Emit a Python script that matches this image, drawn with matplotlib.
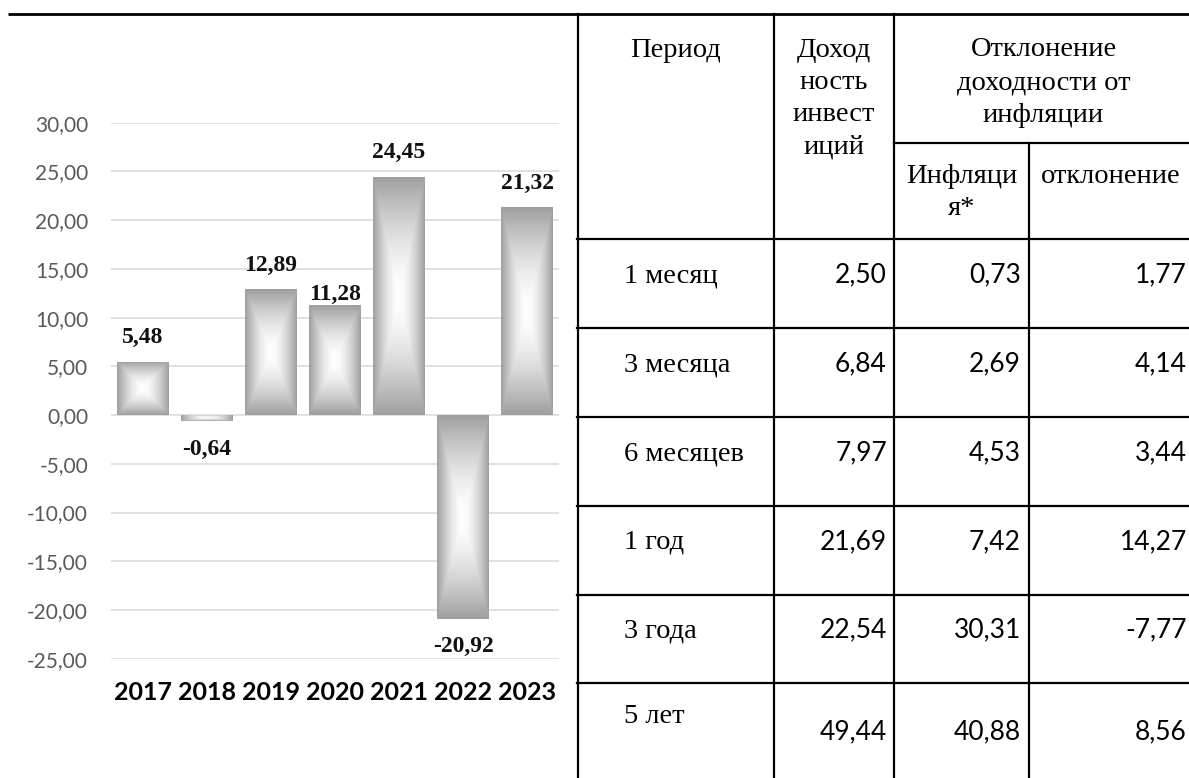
import numpy as np
import matplotlib
matplotlib.use("Agg")
import matplotlib.pyplot as plt
from matplotlib.ticker import FuncFormatter

# ---------------- data ----------------
years = ["2017", "2018", "2019", "2020", "2021", "2022", "2023"]
returns = [5.48, -0.64, 12.89, 11.28, 24.45, -20.92, 21.32]

periods = ["1 месяц", "3 месяца", "6 месяцев", "1 год", "3 года", "5 лет"]
income = ["2,50", "6,84", "7,97", "21,69", "22,54", "49,44"]
inflation = ["0,73", "2,69", "4,53", "7,42", "30,31", "40,88"]
deviation = ["1,77", "4,14", "3,44", "14,27", "-7,77", "8,56"]

hdr_period = "Период"
hdr_income = ["Доход", "ность", "инвест", "иций"]
hdr_dev = ["Отклонение", "доходности от", "инфляции"]
hdr_infl = ["Инфляци", "я*"]
hdr_dev2 = "отклонение"

# label vertical offsets (points) for bar value labels
label_up = [13.5, 0, 13.5, 3.5, 13.5, 0, 13.5]

W, H = 1189, 778
fig = plt.figure(figsize=(W / 100, H / 100), dpi=100)

# ---------------- chart ----------------
ax = fig.add_axes([111 / W, (H - 658.7) / H, 448 / W, 536 / H])
x = np.arange(len(years))
bars = ax.bar(x, returns, width=0.8, color="none", edgecolor="none", zorder=2)

# rectangular "frame" gradient: grey edges -> white centre
n = 300
u = np.linspace(-1, 1, n)
U, V = np.meshgrid(u, u)
d = np.maximum(np.abs(U), np.abs(V))
g = 0.62
shade = 1 - (1 - g) * d ** 1.6
grad = np.dstack([shade, shade, shade])

for b in bars:
    x0, y0 = b.get_x(), b.get_y()
    w, h = b.get_width(), b.get_height()
    y_lo, y_hi = min(y0, y0 + h), max(y0, y0 + h)
    im = ax.imshow(grad, extent=[x0, x0 + w, y_lo, y_hi], aspect="auto",
                   interpolation="bilinear", zorder=2)
    im.set_clip_path(b)

ax.set_xlim(-0.5, len(years) - 0.5)
ax.set_ylim(-25, 30)
ax.set_yticks(np.arange(-25, 31, 5))
ax.yaxis.set_major_formatter(FuncFormatter(lambda v, p: f"{v:.2f}".replace(".", ",")))
ax.grid(axis="y", color="#d9d9d9", lw=1.1)
ax.set_axisbelow(True)
for s in ax.spines.values():
    s.set_visible(False)
ax.tick_params(axis="y", length=0, pad=16.5, labelsize=15, labelcolor="#595959")
ax.set_xticks(x)
ax.set_xticklabels(years)
ax.tick_params(axis="x", length=0, pad=16, labelsize=18, labelcolor="black")
for t in ax.get_yticklabels():
    t.set_fontfamily("Lato")
for t in ax.get_xticklabels():
    t.set_fontfamily("Lato")
    t.set_fontweight("bold")

for i, v in enumerate(returns):
    txt = f"{v:.2f}".replace(".", ",")
    off = label_up[i] if v >= 0 else -24
    ax.annotate(txt, (x[i], v), xytext=(0, off), textcoords="offset points",
                ha="center", va="baseline", fontsize=17, fontweight="bold",
                family="Liberation Serif", color="#111111", zorder=3)

# ---------------- table ----------------
tx = fig.add_axes([0, 0, 1, 1])
tx.set_xlim(0, W)
tx.set_ylim(H, 0)
tx.axis("off")

lw = 1.6
tx.plot([8, W], [14, 14], color="black", lw=2.0, solid_capstyle="butt")
L, C1, C2, C3, R = 577.5, 774, 894, 1029, 1193
row_tops = [239, 328, 417, 506, 594.5, 683]
for xv in (L, C1, C2):
    tx.plot([xv, xv], [14, H + 5], color="black", lw=lw)
tx.plot([C3, C3], [143, H + 5], color="black", lw=lw)
tx.plot([C2, R + 5], [143, 143], color="black", lw=lw)
for yt in row_tops:
    tx.plot([L - 1, R + 5], [yt, yt], color="black", lw=lw)

serif = "Liberation Serif"
fs_h = 20.5
tx.text((L + C1) / 2, 57, hdr_period, ha="center", va="baseline", fontsize=fs_h, family=serif)
for k, line in enumerate(hdr_income):
    tx.text((C1 + C2) / 2, 57 + 32 * k, line, ha="center", va="baseline", fontsize=fs_h, family=serif)
for k, line in enumerate(hdr_dev):
    tx.text((C2 + R) / 2, 56 + 33 * k, line, ha="center", va="baseline", fontsize=fs_h, family=serif)
for k, line in enumerate(hdr_infl):
    tx.text((C2 + C3) / 2, 183 + 32 * k, line, ha="center", va="baseline", fontsize=fs_h, family=serif)
tx.text((C3 + R) / 2, 183, hdr_dev2, ha="center", va="baseline", fontsize=fs_h, family=serif)

for r, top in enumerate(row_tops):
    last = r == len(row_tops) - 1
    yb_lab = top + (40 if last else 43)
    yb_val = top + (56 if last else 43)
    tx.text(624, yb_lab, periods[r], ha="left", va="baseline", fontsize=fs_h, family=serif)
    tx.text(C2 - 7, yb_val, income[r], ha="right", va="baseline", fontsize=19, family="Lato")
    tx.text(C3 - 8, yb_val, inflation[r], ha="right", va="baseline", fontsize=19, family="Lato")
    tx.text(R - 6, yb_val, deviation[r], ha="right", va="baseline", fontsize=19, family="Lato")

fig.savefig("out.png", dpi=100)
